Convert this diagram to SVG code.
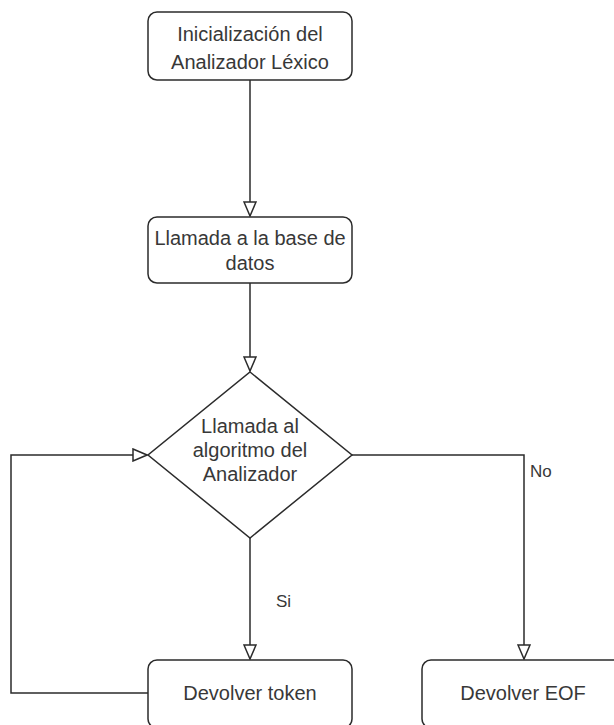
<svg xmlns="http://www.w3.org/2000/svg" width="614" height="725" viewBox="0 0 614 725">
  <style>
    .shape { fill: #ffffff; stroke: #2b2b2b; stroke-width: 1.5; }
    .edge { fill: none; stroke: #2b2b2b; stroke-width: 1.5; }
    .label { font-family: "Liberation Sans", Arial, sans-serif; font-size: 20px; fill: #383838; text-anchor: middle; }
    .elabel { font-family: "Liberation Sans", Arial, sans-serif; font-size: 17px; fill: #383838; }
  </style>
  <defs>
    <marker id="open-arrow" viewBox="0 0 16 14" refX="15" refY="7" markerWidth="16" markerHeight="14" markerUnits="userSpaceOnUse" orient="auto">
      <path d="M1,1 L15,7 L1,13 Z" fill="#ffffff" stroke="#2b2b2b" stroke-width="1.5"/>
    </marker>
  </defs>
  <rect width="614" height="725" fill="#ffffff"/>

  <g id="connectors">
    <path class="edge" d="M250,80 L250,216" marker-end="url(#open-arrow)"/>
    <path class="edge" d="M250,283 L250,371" marker-end="url(#open-arrow)"/>
    <path class="edge" d="M250,538 L250,659" marker-end="url(#open-arrow)"/>
    <path class="edge" d="M352,455 L524,455 L524,659" marker-end="url(#open-arrow)"/>
    <path class="edge" d="M148,693 L11,693 L11,455 L147,455" marker-end="url(#open-arrow)"/>
    <text class="elabel" x="276" y="607">Si</text>
    <text class="elabel" x="530" y="477">No</text>
  </g>

  <g id="init">
    <rect class="shape" x="148" y="12" width="204" height="68" rx="9"/>
    <text class="label" x="250" y="41">Inicialización del</text>
    <text class="label" x="250" y="69">Analizador Léxico</text>
  </g>

  <g id="db-call">
    <rect class="shape" x="148" y="217" width="204" height="66" rx="9"/>
    <text class="label" x="250" y="245">Llamada a la base de</text>
    <text class="label" x="250" y="270">datos</text>
  </g>

  <g id="analyzer">
    <polygon class="shape" points="250,372 352,455 250,538 148,455"/>
    <text class="label" x="250" y="433">Llamada al</text>
    <text class="label" x="250" y="457">algoritmo del</text>
    <text class="label" x="250" y="481">Analizador</text>
  </g>

  <g id="return-token">
    <rect class="shape" x="148" y="660" width="204" height="68" rx="9"/>
    <text class="label" x="250" y="700">Devolver token</text>
  </g>

  <g id="return-eof">
    <rect class="shape" x="422" y="660" width="204" height="68" rx="9"/>
    <text class="label" x="523" y="700">Devolver EOF</text>
  </g>
</svg>
